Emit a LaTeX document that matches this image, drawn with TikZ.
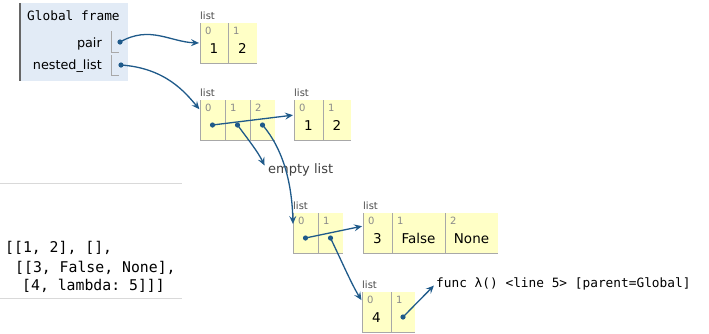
\documentclass[tikz,border=0pt]{standalone}
\usepackage{fontspec}
\setmainfont{DejaVu Sans}
\setmonofont{DejaVu Sans Mono}
\usetikzlibrary{arrows.meta}
\definecolor{framebg}{HTML}{E2EBF6}
\definecolor{listbg}{HTML}{FFFFC6}
\definecolor{ptrcol}{HTML}{1F5A8A}
\definecolor{idxcol}{HTML}{8A8A8A}
\definecolor{rulecol}{HTML}{A8A8A8}
\def\listcell(#1)(#2,#3)(#4){\node[cell, minimum width=#4] (#1) at (#2,#3) {};
  \draw[cellline] (#1.north west) -- (#1.south west) -- (#1.south east);}
\def\cellval(#1)#2#3{\node[idx] (#1i) at ([xshift=5pt,yshift=-11pt]#1.north west) {#2};
  \node[val] (#1v) at ([yshift=-30pt]#1.north) {#3};}
\def\cellptr(#1)#2{\node[idx] (#1i) at ([xshift=5pt,yshift=-11pt]#1.north west) {#2};
  \coordinate (#1p) at ([yshift=-25pt]#1.north); \fill[dot] (#1p) circle (2.6pt);}

\tikzset{
  cell/.style={fill=listbg, inner sep=0pt, outer sep=0pt, minimum height=40pt, anchor=north west},
  cellline/.style={draw=rulecol, line width=1pt},
  idx/.style={font=\fontsize{10}{12}\selectfont, text=idxcol, inner sep=0pt, anchor=base west},
  val/.style={font=\fontsize{13.5}{16}\selectfont, inner sep=0pt, anchor=base},
  lbl/.style={font=\fontsize{10}{12}\selectfont, text=black!70, inner sep=0pt, anchor=base west},
  code/.style={font=\ttfamily\fontsize{14.8}{17}\selectfont, inner sep=0pt, anchor=base west},
  ptr/.style={draw=ptrcol, line width=1.3pt, shorten >=1pt, -{Stealth[length=8pt,width=7pt,inset=3pt]}},
  dot/.style={fill=ptrcol},
}

\begin{document}
\begin{tikzpicture}[x=1pt,y=-1pt]
		%%%%% FRAME %%%%%
		\useasboundingbox (0,0) rectangle (709,333);
		\fill[framebg] (20,3) rectangle (128,81);
		\draw[black!60, line width=2pt] (20,3) -- (20,81);
		\node[code, font=\ttfamily\fontsize{12.8}{15}\selectfont] (gtitle) at (27,20) {Global frame};
		\node[val, anchor=base east, font=\fontsize{12.8}{15}\selectfont] (fpairl) at (102,47) {pair};
		\node[val, anchor=base east, font=\fontsize{12.8}{15}\selectfont] (fnestl) at (102,69) {nested\_list};
		\draw[cellline] (111,31) -- (111,52) -- (119,52);
		\draw[cellline] (111,55) -- (111,75) -- (119,75);
		\coordinate (fpair) at (120,42);
		\coordinate (fnest) at (121,65);
		\fill[dot] (fpair) circle (2.6pt);
		\fill[dot] (fnest) circle (2.6pt);
		
		%%%%% LISTS %%%%%
		% pair
		\listcell(pa0)(200,23)(28pt)
		\listcell(pa1)(228,23)(29pt)
		\node[lbl] (palbl) at ([yshift=4pt]pa0.north west) {list};
		\cellval(pa0){0}{1}
		\cellval(pa1){1}{2}
		
		% nested_list
		\listcell(nl0)(200,100)(25pt)
		\listcell(nl1)(225,100)(25pt)
		\listcell(nl2)(250,100)(25pt)
		\node[lbl] (nllbl) at ([yshift=4pt]nl0.north west) {list};
		\cellptr(nl0){0}
		\cellptr(nl1){1}
		\cellptr(nl2){2}
		
		% inner [1, 2]
		\listcell(in0)(294,100)(29pt)
		\listcell(in1)(323,100)(28pt)
		\node[lbl] (inlbl) at ([yshift=4pt]in0.north west) {list};
		\cellval(in0){0}{1}
		\cellval(in1){1}{2}
		
		\node[val, anchor=base west, font=\fontsize{13}{15}\selectfont, text=black!75] (emptyl) at (268,173) {empty list};
		
		% row
		\listcell(rw0)(293,213)(25pt)
		\listcell(rw1)(318,213)(25pt)
		\node[lbl] (rwlbl) at ([yshift=4pt]rw0.north west) {list};
		\cellptr(rw0){0}
		\cellptr(rw1){1}
		
		% [3, False, None]
		\listcell(tr0)(363,213)(29pt)
		\listcell(tr1)(392,213)(53pt)
		\listcell(tr2)(445,213)(53pt)
		\node[lbl] (trlbl) at ([yshift=4pt]tr0.north west) {list};
		\cellval(tr0){0}{3}
		\cellval(tr1){1}{False}
		\cellval(tr2){2}{None}
		
		% [4, lambda]
		\listcell(fl0)(362,292)(29pt)
		\listcell(fl1)(391,292)(24pt)
		\node[lbl] (fllbl) at ([yshift=4pt]fl0.north west) {list};
		\cellval(fl0){0}{4}
		\cellptr(fl1){1}
		\node[code, font=\ttfamily\fontsize{12.8}{15}\selectfont] (fn) at (436,287) {func λ() <line 5> [parent=Global]};
		
		%%%%% POINTERS %%%%%
		\draw[ptr] (fpair) .. controls (150,25) and (170,42) .. (pa0.west);
		\draw[ptr] (fnest) .. controls (165,68) and (185,92) .. ([yshift=-10pt]nl0.north west);
		\draw[ptr] (nl0p) -- ([yshift=-15pt]in0.north west);
		\draw[ptr] (nl1p) .. controls (250,142) and (258,152) .. ([xshift=-3pt,yshift=3pt]emptyl.west);
		\draw[ptr] (nl2p) .. controls (284,150) and (292,185) .. ([yshift=-12pt]rw0.north west);
		\draw[ptr] (rw0p) -- ([yshift=-13pt]tr0.north west);
		\draw[ptr] (rw1p) .. controls (342,262) and (352,285) .. ([yshift=-9pt]fl0.north west);
		\draw[ptr, shorten >=3pt] (fl1p) -- (fn.west);
		
		%%%%% CODE %%%%%
		\draw[black!15, line width=1pt] (0,183) -- (182,183);
		\node[code] (src1) at (5,252) {[[1, 2], [],};
		\node[code] (src2) at (15,272) {[[3, False, None],};
		\node[code] (src3) at (22,290) {[4, lambda: 5]]]};
		\draw[black!15, line width=1pt] (0,298) -- (182,298);
		%%%%% END %%%%%
	\end{tikzpicture}
\end{document}
